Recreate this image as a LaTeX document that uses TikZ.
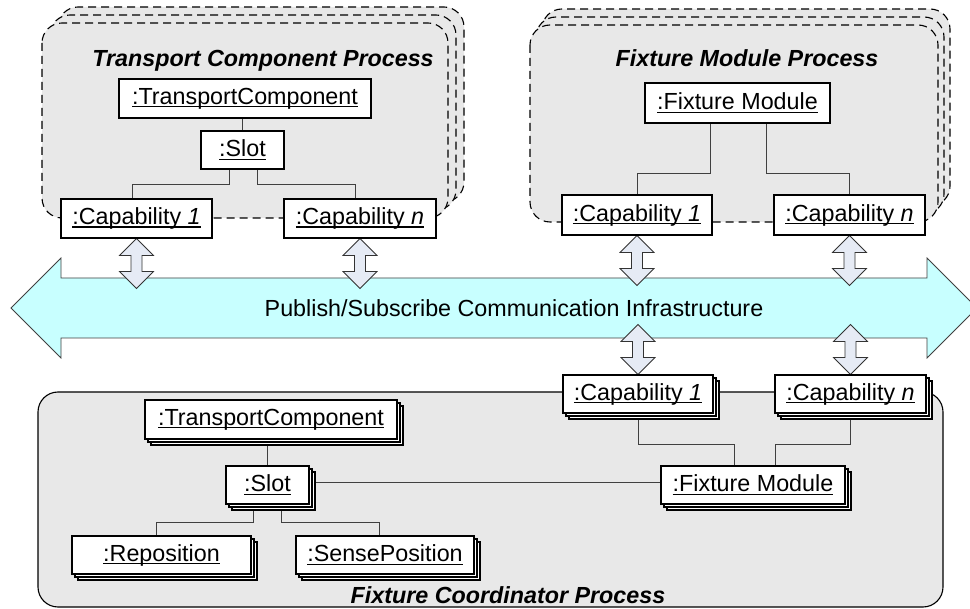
\documentclass[tikz,border=0pt]{standalone}
\usepackage{fontspec}
\setmainfont{Liberation Sans}
\usetikzlibrary{shadows,calc}
\definecolor{procgray}{HTML}{E8E8E8}
\definecolor{buscyan}{HTML}{C8FFFF}
\definecolor{arrowfill}{HTML}{E6EBF5}
\pgfdeclarelayer{back}
\pgfdeclarelayer{mid}
\pgfsetlayers{back,mid,main}
\newcommand\ulx[1]{\setbox0\hbox{#1}\rlap{\rule[-3pt]{\wd0}{1.1pt}}\box0}
\newcommand\vdarrow[1]{\draw[smallarrow] #1 -- ++(17,17) -- ++(-11.5,0) -- ++(0,16) -- ++(11.5,0) -- ++(-17,17) -- ++(-17,-17) -- ++(11.5,0) -- ++(0,-16) -- ++(-11.5,0) -- cycle;}
\tikzset{
  txt/.style={font=\fontsize{23.3}{28}\selectfont},
  objbox/.style={draw=black, line width=1.1pt, fill=white, inner sep=0pt, txt, minimum height=39pt},
  stackbox/.style={objbox, copy shadow={shadow xshift=6pt, shadow yshift=-6pt}, copy shadow={shadow xshift=3pt, shadow yshift=-3pt}},
  conn/.style={draw=black!75, line width=0.9pt},
  proc/.style={fill=procgray, draw=black, line width=1.1pt, rounded corners=20pt},
  dproc/.style={proc, dash pattern=on 8pt off 5pt},
  ptitle/.style={font=\fontsize{23.3}{28}\selectfont\bfseries\itshape, inner sep=0pt, anchor=base},
  busstyle/.style={fill=buscyan, draw=black!75, line width=0.8pt},
  smallarrow/.style={fill=arrowfill, draw=black!80, line width=0.8pt},
}
\begin{document}
\begin{tikzpicture}[x=1pt, y=-1pt]
\useasboundingbox (0,0) rectangle (970,609);

% ---------- nodes ----------
% Transport Component Process
\node[ptitle] (tA) at (263,67) {Transport Component Process};
\node[objbox, minimum width=252pt] (tcA) at (245,98.5) {\ulx{:TransportComponent}};
\node[objbox, minimum width=83pt, minimum height=38pt] (slotA) at (242.5,150) {\ulx{:Slot}};
\node[objbox, minimum width=151pt] (capA1) at (136.5,218.5) {\ulx{:Capability \textit{1}}};
\node[objbox, minimum width=152pt] (capAn) at (360,218.5) {\ulx{:Capability \textit{n}}};

% Fixture Module Process
\node[ptitle] (tB) at (747,67) {Fixture Module Process};
\node[objbox, minimum width=185pt, minimum height=40pt] (fmB) at (737.5,103) {\ulx{:Fixture Module}};
\node[objbox, minimum width=150pt, minimum height=40pt] (capB1) at (637,215) {\ulx{:Capability \textit{1}}};
\node[objbox, minimum width=151pt, minimum height=40pt] (capBn) at (849.5,215) {\ulx{:Capability \textit{n}}};

% Bus text
\node[txt, inner sep=0pt, anchor=base] (bustext) at (514,317) {Publish/Subscribe Communication Infrastructure};

% Fixture Coordinator Process
\node[ptitle] (tC) at (508,603) {Fixture Coordinator Process};
\node[stackbox, minimum width=252pt] (tcC) at (271,419.5) {\ulx{:TransportComponent}};
\node[stackbox, minimum width=83pt, minimum height=38pt] (slotC) at (267.5,485) {\ulx{:Slot}};
\node[stackbox, minimum width=179pt, minimum height=38pt] (repo) at (161.5,555) {\ulx{:Reposition}};
\node[stackbox, minimum width=178pt, minimum height=38pt] (sense) at (385,555) {\ulx{:SensePosition}};
\node[stackbox, minimum width=150pt, minimum height=38pt] (capC1) at (638,394) {\ulx{:Capability \textit{1}}};
\node[stackbox, minimum width=151pt, minimum height=38pt] (capCn) at (850.5,394) {\ulx{:Capability \textit{n}}};
\node[stackbox, minimum width=184pt, minimum height=38pt] (fmC) at (753,485) {\ulx{:Fixture Module}};

% ---------- background: processes, bus, small arrows ----------
\begin{pgfonlayer}{back}
  \fill[white] (0,0) rectangle (970,609);
  % Transport Component Process (stacked, dashed)
  \draw[dproc] (58,7) rectangle (464,202);
  \draw[dproc] (50,15) rectangle (456,210);
  \draw[dproc] (42,23) rectangle (448,218);
  % Fixture Module Process (stacked, dashed)
  \draw[dproc] (542,9) rectangle (950,206);
  \draw[dproc] (536,17) rectangle (944,214);
  \draw[dproc] (530,25) rectangle (938,222);
  % Fixture Coordinator Process
  \draw[proc] (38,392) rectangle (943,607);
  % bus
  \draw[busstyle] (11,308) -- (61,258) -- (61,278) -- (927,278) -- (927,258) -- (977,308)
     -- (927,358) -- (927,338) -- (61,338) -- (61,358) -- cycle;
  % small double arrows
  \vdarrow{(capA1.south)}
  \vdarrow{(capAn.south)}
  \vdarrow{(capB1.south)}
  \vdarrow{(capBn.south)}
  \vdarrow{($(capC1.north)+(0,-50)$)}
  \vdarrow{($(capCn.north)+(0,-50)$)}
\end{pgfonlayer}

% ---------- connectors ----------
\begin{pgfonlayer}{mid}
  \draw[conn] (slotA.north) -- (slotA.north |- tcA.south);
  \draw[conn] ([xshift=-13pt]slotA.south) -- ++(0,15) -| ([xshift=-4.5pt]capA1.north);
  \draw[conn] ([xshift=14.5pt]slotA.south) -- ++(0,15) -| ([xshift=-5pt]capAn.north);
  \draw[conn] ([xshift=-27.5pt]fmB.south) -- ++(0,50) -| (capB1.north);
  \draw[conn] ([xshift=28.5pt]fmB.south) -- ++(0,50) -| (capBn.north);
  \draw[conn] (slotC.north) -- (slotC.north |- tcC.south);
  \draw[conn] ([xshift=-14.5pt]slotC.south) -- ++(0,18) -| ([xshift=-5.5pt]repo.north);
  \draw[conn] ([xshift=13.5pt]slotC.south) -- ++(0,18) -| ([xshift=-6pt]sense.north);
  \draw[conn] ([yshift=3pt]slotC.east) -- ([yshift=3pt]slotC.east -| fmC.west);
  \draw[conn] (capC1.south) -- ++(0,31) -| ([xshift=-19pt]fmC.north);
  \draw[conn] (capCn.south) -- ++(0,31) -| ([xshift=22pt]fmC.north);
\end{pgfonlayer}
\end{tikzpicture}
\end{document}
